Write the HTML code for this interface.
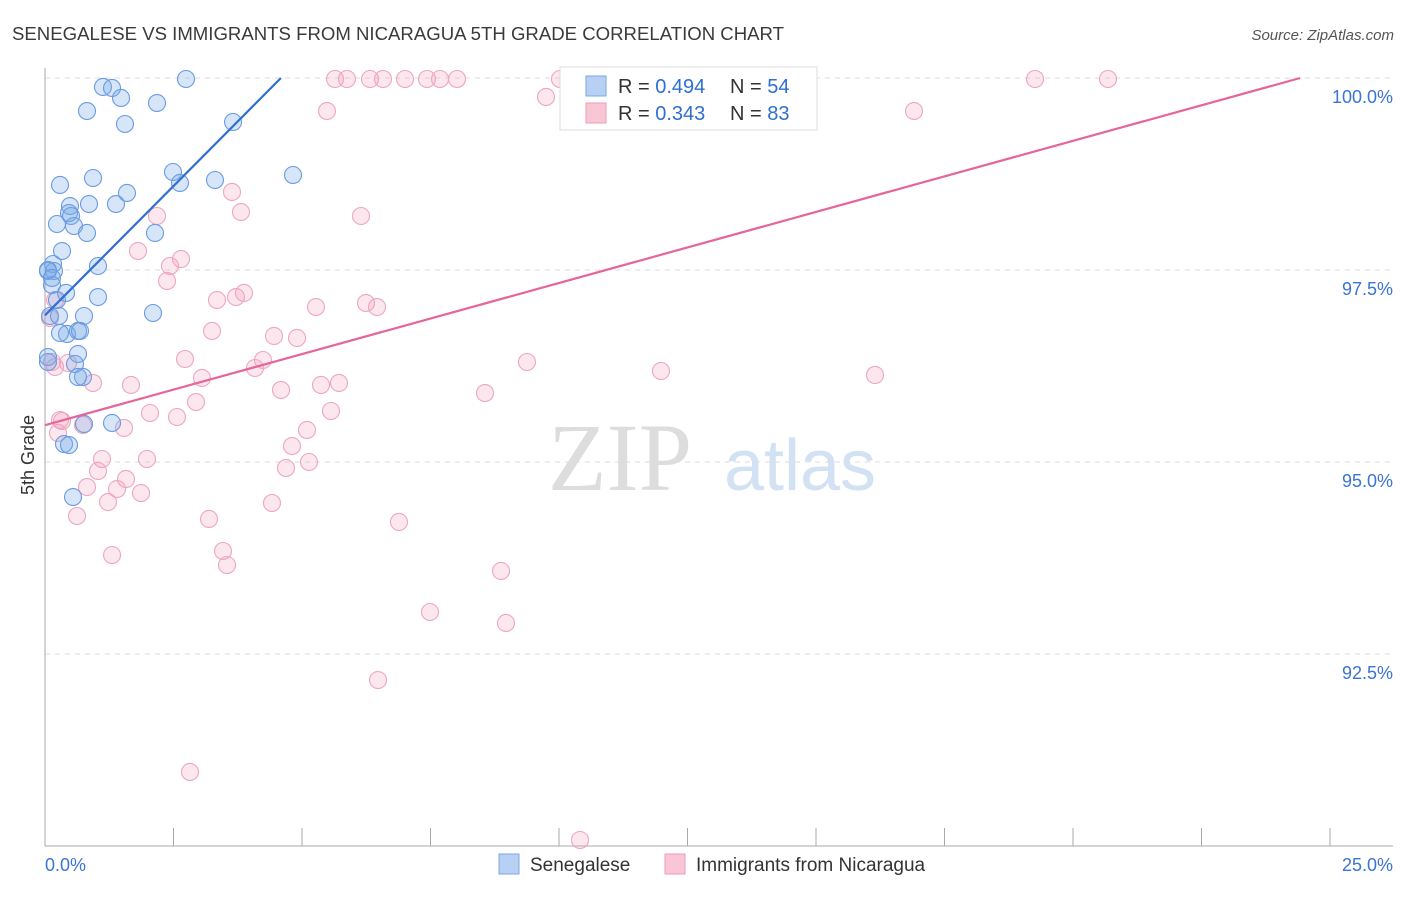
<!DOCTYPE html>
<html><head><meta charset="utf-8"><style>
body{margin:0;background:#fff;font-family:"Liberation Sans",sans-serif}
</style></head><body>
<svg id="c" width="1406" height="892" xmlns="http://www.w3.org/2000/svg">
<text x="12" y="40" font-size="18" fill="#3a3a3a" textLength="772" lengthAdjust="spacingAndGlyphs">SENEGALESE VS IMMIGRANTS FROM NICARAGUA 5TH GRADE CORRELATION CHART</text>
<text x="1394" y="40" font-size="15" fill="#555" font-style="italic" text-anchor="end">Source: ZipAtlas.com</text>
<g>
<text x="620" y="490" font-size="96" fill="#ddd" font-family="Liberation Serif,serif" text-anchor="middle">ZIP</text>
<text x="800" y="490" font-size="72" fill="#d3e1f4" text-anchor="middle">atlas</text>
</g>
<g id="grid"></g>
<g id="axes"></g>
<g id="pts"></g>
<g id="lines"></g>
<text transform="translate(34,455) rotate(-90)" font-size="18" fill="#333" text-anchor="middle">5th Grade</text>
<g>
<rect x="560" y="67" width="257" height="63" fill="#fff" stroke="#ddd"/>
<rect x="586" y="76" width="20" height="20" fill="#b7d0f3" stroke="#7aa7e6"/>
<rect x="586" y="103" width="20" height="20" fill="#f9c6d6" stroke="#ec9cb7"/>
<text x="618" y="93" font-size="20" fill="#333">R = <tspan fill="#2f6fd1">0.494</tspan><tspan x="730">N = </tspan><tspan fill="#2f6fd1">54</tspan></text>
<text x="618" y="120" font-size="20" fill="#333">R = <tspan fill="#2f6fd1">0.343</tspan><tspan x="730">N = </tspan><tspan fill="#2f6fd1">83</tspan></text>
</g>
<g>
<rect x="499" y="854" width="20" height="20" fill="#b7d0f3" stroke="#7aa7e6"/>
<text x="530" y="871" font-size="19" fill="#333">Senegalese</text>
<rect x="665" y="854" width="20" height="20" fill="#f9c6d6" stroke="#ec9cb7"/>
<text x="696" y="871" font-size="19" fill="#333">Immigrants from Nicaragua</text>
</g>
</svg>
<script>
const yTicks=[92.5,95.0,97.5,100.0];
const xTickVals=[0,2.5,5,7.5,10,12.5,15,17.5,20,22.5,25];
const xLabels=["0.0%","25.0%"];
const bluePx=[[186,79],[103,87],[112,88],[121,98],[157,103],[87,111],[125,124],[233,122],[293,175],[173,172],[93,178],[180,183],[215,180],[60,185],[127,193],[116,204],[89,204],[70,206],[69,213],[71,216],[57,224],[74,226],[87,233],[155,233],[62,251],[98,266],[53,264],[54,271],[48,271],[52,285],[98,297],[57,300],[66,293],[153,313],[50,316],[59,316],[84,316],[67,334],[78,331],[80,331],[60,333],[78,354],[48,357],[48,362],[75,364],[83,377],[78,377],[112,423],[84,424],[64,444],[69,445],[73,497],[48,270],[52,278]];
const pinkPx=[[335,79],[347,79],[370,79],[383,79],[405,79],[427,79],[440,79],[457,79],[560,79],[1035,79],[1108,79],[546,97],[327,111],[914,111],[232,192],[241,212],[157,216],[361,216],[138,251],[181,259],[170,266],[167,281],[217,300],[244,293],[236,297],[316,307],[366,303],[377,307],[212,331],[274,336],[297,338],[185,359],[263,360],[255,368],[527,362],[661,371],[875,375],[202,378],[131,385],[93,383],[281,390],[321,385],[339,383],[485,393],[196,402],[331,411],[150,413],[177,417],[62,421],[83,425],[124,428],[58,433],[307,430],[292,446],[147,459],[102,459],[286,468],[309,462],[98,471],[126,479],[87,487],[117,489],[141,493],[108,502],[272,503],[77,516],[209,519],[399,522],[223,551],[112,555],[227,565],[501,571],[430,612],[506,623],[378,680],[190,772],[580,840],[52,362],[55,367],[50,318],[55,300],[68,363],[60,420]];
const blueX=bluePx.map(p=>+((p[0]-45)/1285*25).toFixed(3));
const blueY=bluePx.map(p=>+(100-(p[1]-78)/192*2.5).toFixed(3));
const pinkX=pinkPx.map(p=>+((p[0]-45)/1285*25).toFixed(3));
const pinkY=pinkPx.map(p=>+(100-(p[1]-78)/192*2.5).toFixed(3));
const blueTrend=[[0,96.91],[4.59,100]];
const pinkTrend=[[0,95.48],[24.42,100]];
</script>
<script>
const NS="http://www.w3.org/2000/svg";
const sx=v=>45+v/25*1285;
const sy=v=>78+(100-v)/2.5*192;
function mk(t,a,p){const e=document.createElementNS(NS,t);for(const k in a)e.setAttribute(k,a[k]);p.appendChild(e);return e;}
const grid=document.getElementById('grid'),axes=document.getElementById('axes'),pts=document.getElementById('pts'),lines=document.getElementById('lines');
yTicks.forEach(v=>{
 const l=mk('line',{x1:45,x2:1393,y1:sy(v),y2:sy(v),stroke:'#ddd','stroke-dasharray':'5,5'},grid);
 
 
 const t=mk('text',{x:1393,y:sy(v)+25,'font-size':18,fill:'#3a74d4','text-anchor':'end'},axes);
 t.textContent=v.toFixed(1)+'%';
 
 
});
const ya=mk('line',{x1:45,x2:45,y1:68,y2:846,stroke:'#aaa'},axes);


const xa=mk('line',{x1:45,x2:1393,y1:846,y2:846,stroke:'#aaa'},axes);


xTickVals.forEach(v=>{
 const t=mk('line',{x1:sx(v),x2:sx(v),y1:828,y2:846,stroke:'#aaa'},axes);
 
 
});
[[0,'start',xLabels[0]],[25,'end',xLabels[1]]].forEach(d=>{
 const t=mk('text',{x:d[0]===0?45:1393,y:871,'font-size':18,fill:'#3a74d4','text-anchor':d[1]},axes);
 t.textContent=d[2];
 
 
});
function series(X,Y,fill,stroke,name){
 X.forEach((x,i)=>{
  const c=mk('circle',{cx:sx(x),cy:sy(Y[i]),r:8.5,fill:fill,stroke:stroke,'stroke-width':1.1},pts);
  
  
 });
}
series(pinkX,pinkY,'rgba(244,160,188,0.25)','#eda6be','point-nicaragua');
series(blueX,blueY,'rgba(120,168,232,0.3)','#6a9be0','point-senegalese');
const bl=mk('line',{x1:sx(blueTrend[0][0]),y1:sy(blueTrend[0][1]),x2:sx(blueTrend[1][0]),y2:sy(blueTrend[1][1]),stroke:'#2f6fd1','stroke-width':2.2},lines);


const pl=mk('line',{x1:sx(pinkTrend[0][0]),y1:sy(pinkTrend[0][1]),x2:sx(pinkTrend[1][0]),y2:sy(pinkTrend[1][1]),stroke:'#e4669a','stroke-width':2.2},lines);


</script>
</body></html>
